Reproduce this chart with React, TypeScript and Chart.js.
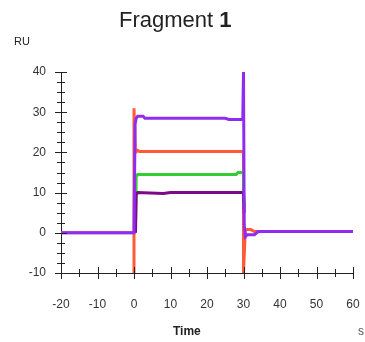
import React, { useEffect, useRef } from "react";
import { Chart, registerables } from "chart.js";

Chart.register(...registerables);

const purpleT = [-20, 0, 0.3, 0.6, 1, 2.5, 3, 25, 26, 29.8, 30, 30.2, 30.5, 31, 33, 34, 60];
const purpleV = [0, 0, 27, 28.5, 29, 29, 28.5, 28.5, 28.2, 28.2, 40, 2, -1, -0.5, -0.5, 0.3, 0.3];

const orangeT = [-20, 0, 0, 0, 0.4, 1, 1.5, 30, 30, 30, 30.5, 32, 33, 60];
const orangeV = [0, 0, -10, 31, 20, 20.5, 20.2, 20.2, -10, -10, 0.8, 0.8, 0.3, 0.3];

const greenT = [0.4, 0.6, 1, 28, 28.5, 30, 30, 30.2];
const greenV = [0, 14, 14.5, 14.5, 15, 15, 10, 6.5];

const darkT = [0.4, 0.6, 1, 8, 10, 30, 30.2];
const darkV = [0, 9.5, 10, 9.8, 10, 10, 5];

const xTicks = [-20, -10, 0, 10, 20, 30, 40, 50, 60];
const yTicks = [-10, 0, 10, 20, 30, 40];

const pts = (t: number[], v: number[]) => t.map((x, i) => ({ x, y: v[i] }));

const crossTicks = {
  id: "crossTicks",
  afterDraw(chart: any) {
    const { ctx, chartArea, scales } = chart;
    const xs = scales.x;
    const ys = scales.y;
    ctx.save();
    ctx.strokeStyle = "#222";
    ctx.lineWidth = 1;
    ctx.beginPath();
    for (let v = -10; v <= 40; v += 2.5) {
      const py = Math.round(ys.getPixelForValue(v)) + 0.5;
      const len = v % 10 === 0 ? 6 : 4;
      ctx.moveTo(chartArea.left - len, py);
      ctx.lineTo(chartArea.left + len, py);
    }
    for (let v = -20; v <= 60; v += 5) {
      const px = Math.round(xs.getPixelForValue(v)) + 0.5;
      const len = v % 10 === 0 ? 6 : 4;
      ctx.moveTo(px, chartArea.bottom - len);
      ctx.lineTo(px, chartArea.bottom + len);
    }
    ctx.stroke();
    ctx.restore();
  },
};

export default function App() {
  const ref = useRef<HTMLCanvasElement>(null);
  useEffect(() => {
    const mk = (label: string, t: number[], v: number[], color: string) => ({
      label,
      data: pts(t, v),
      borderColor: color,
      backgroundColor: color,
      borderWidth: 3,
      pointRadius: 0,
      tension: 0,
      fill: false,
    });
    const chart = new Chart(ref.current!, {
      type: "line",
      data: {
        datasets: [
          mk("A", purpleT, purpleV, "#8f2cf2"),
          mk("D", darkT, darkV, "#7c0a86"),
          mk("G", greenT, greenV, "#33cc33"),
          mk("O", orangeT, orangeV, "#ff5b38"),
        ],
      },
      options: {
        animation: false,
        responsive: false,
        maintainAspectRatio: false,
        layout: { padding: { left: 0, right: 12, top: 72, bottom: 0 } },
        plugins: { legend: { display: false }, tooltip: { enabled: false }, title: { display: false } },
        scales: {
          x: {
            type: "linear",
            min: -20,
            max: 60,
            afterBuildTicks: (s: any) => { s.ticks = xTicks.map((value) => ({ value })); },
            afterFit: (s: any) => { s.height = 69; s.paddingLeft = 0; s.paddingRight = 0; },
            grid: { display: false, drawTicks: false },
            border: { display: true, color: "#222", width: 1 },
            ticks: { padding: 24, color: "#333", font: { family: "Liberation Sans", size: 12 }, maxRotation: 0 },
          },
          y: {
            type: "linear",
            min: -10,
            max: 40,
            afterBuildTicks: (s: any) => { s.ticks = yTicks.map((value) => ({ value })); },
            afterFit: (s: any) => { s.width = 61; s.paddingTop = 0; s.paddingBottom = 0; },
            grid: { display: false, drawTicks: false },
            border: { display: true, color: "#222", width: 1 },
            ticks: { padding: 15, color: "#333", font: { family: "Liberation Sans", size: 12 } },
          },
        },
      },
      plugins: [crossTicks],
    });
    return () => chart.destroy();
  }, []);

  const txt: React.CSSProperties = { position: "absolute", fontFamily: "Liberation Sans, Arial, sans-serif", color: "#222", whiteSpace: "nowrap" };
  return (
    <div style={{ position: "fixed", left: 0, top: 0, width: 365, height: 342, background: "#fff", overflow: "hidden" }}>
      <canvas ref={ref} width={365} height={342} style={{ position: "absolute", left: 0, top: 0, width: 365, height: 342 }} />
      <div style={{ ...txt, left: 119, top: 7, fontSize: 22 }}>
        Fragment <b>1</b>
      </div>
      <div style={{ ...txt, left: 14, top: 35, fontSize: 11 }}>RU</div>
      <div style={{ ...txt, left: 173, top: 324, fontSize: 12, fontWeight: "bold" }}>Time</div>
      <div style={{ ...txt, left: 358, top: 324, fontSize: 12, color: "#555" }}>s</div>
    </div>
  );
}
